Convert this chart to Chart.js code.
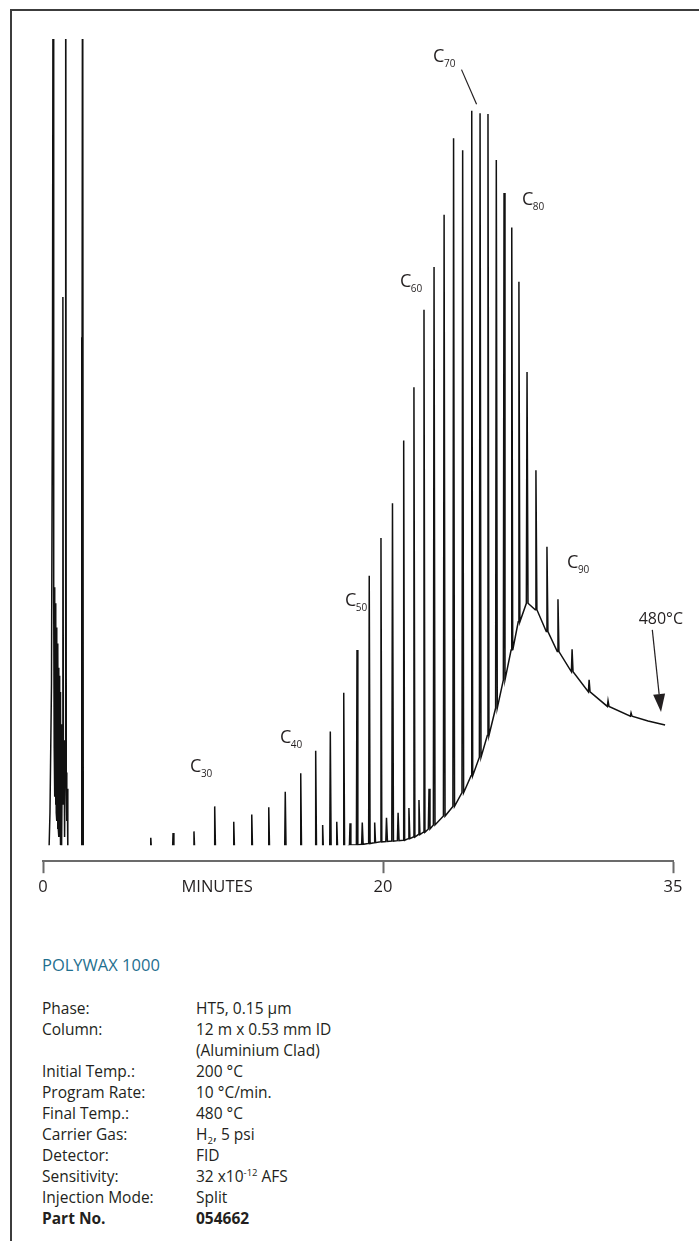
<!DOCTYPE html>
<html><head><meta charset="utf-8">
<script src="https://cdn.jsdelivr.net/npm/chart.js@4.4.0/dist/chart.umd.min.js"></script>
<style>
html,body{margin:0;padding:0;background:#fff;}
body{width:699px;height:1241px;position:relative;overflow:hidden;font-family:'Open Sans',sans-serif;color:#231f20;}
#frame{position:absolute;left:10px;top:9px;width:700px;height:1240px;border-top:2px solid #3c3c3c;border-left:2px solid #3c3c3c;}
#wrap{position:absolute;left:0;top:0;width:699px;height:912px;}
#title{position:absolute;left:42px;top:955px;font-size:16.5px;line-height:20px;color:#1f6f8f;}
#info{position:absolute;left:42px;top:998px;font-size:15.5px;line-height:21px;}
.row{display:flex;white-space:nowrap;}
.row .k{width:154px;}
sub,sup{font-size:9.5px;line-height:0;}
b{font-weight:700;}
</style></head><body>
<div id="frame"></div>
<div id="wrap"><canvas id="c"></canvas></div>
<div id="title">POLYWAX 1000</div>
<div id="info">
<div class="row"><span class="k">Phase:</span><span>HT5, 0.15 µm</span></div>
<div class="row"><span class="k">Column:</span><span>12 m x 0.53 mm ID</span></div>
<div class="row"><span class="k"></span><span>(Aluminium Clad)</span></div>
<div class="row"><span class="k">Initial Temp.:</span><span>200 °C</span></div>
<div class="row"><span class="k">Program Rate:</span><span>10 °C/min.</span></div>
<div class="row"><span class="k">Final Temp.:</span><span>480 °C</span></div>
<div class="row"><span class="k">Carrier Gas:</span><span>H<sub>2</sub>, 5 psi</span></div>
<div class="row"><span class="k">Detector:</span><span>FID</span></div>
<div class="row"><span class="k">Sensitivity:</span><span>32 x10<sup>-12</sup> AFS</span></div>
<div class="row"><span class="k">Injection Mode:</span><span>Split</span></div>
<div class="row"><b class="k">Part No.</b><b>054662</b></div>
</div>
<script>
// ---- data (retention time in minutes, detector response in arbitrary units) ----
const solventTimes  = [0.35,0.41,0.50,0.56,0.60,0.63,0.66,0.68,0.70,0.72,0.74,0.76,0.78,0.80,0.82,0.84,0.86,0.88,0.90,0.92,0.94,0.96,0.98,1.00,1.02,1.04,1.06,1.08,1.10,1.14,1.17,1.20,1.24,1.27,1.30,1.335,1.37,1.40,1.43,1.46,2.24,2.27,2.29,2.33,2.37];
const solventSignal = [-1,4,20,62,130,30,12,32,6,30,5,28,4,27,3,25,2,24,2,22,1,21,1,19,0,17,-1,15,-1,12,68,5,13,1,10,130,9,3,7,-1,-1,63,20,130,-1];

const peakTimes   = [6.34,7.65,8.88,10.10,11.22,12.28,13.28,14.25,15.16,16.04,16.90,17.69,18.47,19.19,19.88,20.49,21.07,21.60,22.12,22.64,23.16,23.65,24.12,24.59,25.02,25.43,25.86,26.26,26.66,27.03,27.45,27.91,28.48,29.05,29.78,30.66,31.64,32.83];
const peakHeights = [0.9,1.5,1.7,4.8,2.9,3.8,4.7,6.6,8.9,11.7,14.1,18.9,24.2,33.4,38.1,42.4,50.2,56.8,66.4,71.7,78.2,87.7,86.2,91.1,90.8,90.7,85.0,80.9,76.6,69.9,58.7,46.5,37.0,30.5,24.3,20.5,17.9,16.4];
const peakBase    = [-1,-1,-1,-1,-1,-1,-1,-1,-1,-1,-1,-0.5,0,0.2,0.4,0.5,0.6,1.0,1.6,2.5,3.6,4.8,6.5,8.6,10.9,13.6,17.0,20.5,24.2,27.7,30.0,29.2,26.5,24.0,21.5,19.0,17.2,16.0];

const minorTimes   = [16.45,17.28,18.06,18.78,19.51,20.18,20.78,21.34,21.86,22.38];
const minorHeights = [2.5,2.9,2.7,2.8,2.8,3.4,4.0,4.6,5.6,7.0];
const minorBase    = [-1,-0.5,0,0.1,0.3,0.45,0.55,0.8,1.3,2.0];

const tailTimes  = [33.71,34.59];
const tailSignal = [15.4,14.9];

const axisTicks  = [0,10.24,20,35];
const axisLabels = ['0','MINUTES','20','35'];
const carbonLabels = ['30','40','50','60','70','80','90'];
const endTempLabel = '480°C';

// ---- build trace ----
const points = [];
solventTimes.forEach((t,i)=>points.push({x:t,y:solventSignal[i]}));
const peaks = peakTimes.map((t,i)=>({t,h:peakHeights[i],b:peakBase[i]}))
  .concat(minorTimes.map((t,i)=>({t,h:minorHeights[i],b:minorBase[i]})))
  .sort((a,b)=>a.t-b.t);
peaks.forEach(p=>{
  points.push({x:p.t-0.035,y:p.b});
  points.push({x:p.t,y:p.h});
  points.push({x:p.t+0.05,y:p.b});
});
tailTimes.forEach((t,i)=>points.push({x:t,y:tailSignal[i]}));

// ---- time axis of the original figure is not uniform (20 min sits at 54% of width) ----
const warpKnots = [0,20,35];
const warpFrac  = [0,0.5397,1];
function warp(v){
  if(v<=warpKnots[1]) return (v-warpKnots[0])/(warpKnots[1]-warpKnots[0])*warpFrac[1];
  return warpFrac[1]+(v-warpKnots[1])/(warpKnots[2]-warpKnots[1])*(warpFrac[2]-warpFrac[1]);
}
function unwarp(d){
  if(d<=warpFrac[1]) return d/warpFrac[1]*warpKnots[1];
  return warpKnots[1]+(d-warpFrac[1])/(1-warpFrac[1])*(warpKnots[2]-warpKnots[1]);
}
class PiecewiseScale extends Chart.LinearScale {
  getPixelForValue(value){
    if(value===null||isNaN(value)) return NaN;
    return this.getPixelForDecimal(warp(value));
  }
  getValueForPixel(pixel){ return unwarp(this.getDecimalForPixel(pixel)); }
}
PiecewiseScale.id = 'piecewise';
PiecewiseScale.defaults = Chart.LinearScale.defaults;
Chart.register(PiecewiseScale);

const FONT = "'Open Sans', sans-serif";
const annot = {
  id:'annot',
  afterDatasetsDraw(chart, args, o){
    const {ctx, scales:{x,y}} = chart;
    ctx.save();
    ctx.fillStyle = '#231f20'; ctx.strokeStyle = '#231f20';
    ctx.textBaseline = 'alphabetic'; ctx.textAlign = 'left';
    o.carbonAt.forEach((p,i)=>{
      const px = x.getPixelForValue(p[0]), py = y.getPixelForValue(p[1]);
      ctx.font = '18px ' + FONT;
      ctx.fillText('C', px, py);
      const w = ctx.measureText('C').width;
      ctx.font = '10px ' + FONT;
      ctx.fillText(carbonLabels[i], px + w - 0.5, py + 5);
    });
    // C70 leader
    ctx.lineWidth = 1.2;
    ctx.beginPath();
    ctx.moveTo(x.getPixelForValue(o.leader[0][0]), y.getPixelForValue(o.leader[0][1]));
    ctx.lineTo(x.getPixelForValue(o.leader[1][0]), y.getPixelForValue(o.leader[1][1]));
    ctx.stroke();
    // 480°C label + arrow
    ctx.font = '16px ' + FONT; ctx.textAlign = 'center';
    ctx.fillText(endTempLabel, x.getPixelForValue(o.tempAt[0]), y.getPixelForValue(o.tempAt[1]));
    const x1 = x.getPixelForValue(o.arrow[0][0]), y1 = y.getPixelForValue(o.arrow[0][1]);
    const x2 = x.getPixelForValue(o.arrow[1][0]), y2 = y.getPixelForValue(o.arrow[1][1]);
    const L = Math.hypot(x2-x1,y2-y1), ux=(x2-x1)/L, uy=(y2-y1)/L, hl=18, hw=6;
    ctx.beginPath(); ctx.moveTo(x1,y1); ctx.lineTo(x2-ux*hl, y2-uy*hl); ctx.stroke();
    ctx.beginPath();
    ctx.moveTo(x2,y2);
    ctx.lineTo(x2-ux*hl-uy*hw, y2-uy*hl+ux*hw);
    ctx.lineTo(x2-ux*hl+uy*hw, y2-uy*hl-ux*hw);
    ctx.closePath(); ctx.fill();
    ctx.restore();
  }
};

new Chart(document.getElementById('c'), {
  type:'line',
  data:{datasets:[{
    data:points, borderColor:'#111', borderWidth:1.5, pointRadius:0, tension:0,
    fill:false, clip:{left:0, top:0, right:0, bottom:-16}
  }]},
  options:{
    responsive:true, maintainAspectRatio:false, animation:false,
    layout:{padding:{left:43, right:26, top:39, bottom:11}},
    plugins:{legend:{display:false}, tooltip:{enabled:false},
      annot:{
        carbonAt:[[8.65,9.05],[13.94,12.7],[17.76,29.6],[20.88,69.2],[22.59,97.1],[27.19,79.4],[29.52,34.4]],
        leader:[[24.06,96.2],[24.84,91.9]],
        tempAt:[34.37,27.4],
        arrow:[[33.93,26.7],[34.38,16.5]]
      }},
    scales:{
      x:{type:'piecewise', min:0, max:35,
        afterBuildTicks:(s)=>{ s.ticks = axisTicks.map(v=>({value:v})); },
        ticks:{autoSkip:false, maxRotation:0, padding:4, color:'#231f20',
          font:{family:FONT, size:16.5},
          callback:(v,i)=>axisLabels[i]},
        grid:{drawOnChartArea:false, drawTicks:true, tickLength:12, tickWidth:2,
          tickColor:(c)=>axisLabels[c.index]==='MINUTES'?'rgba(0,0,0,0)':'#6b6b6b'},
        border:{display:true, color:'#6b6b6b', width:2}
      },
      y:{display:false, min:-2, max:100}
    }
  },
  plugins:[annot]
});
</script>
</body></html>
